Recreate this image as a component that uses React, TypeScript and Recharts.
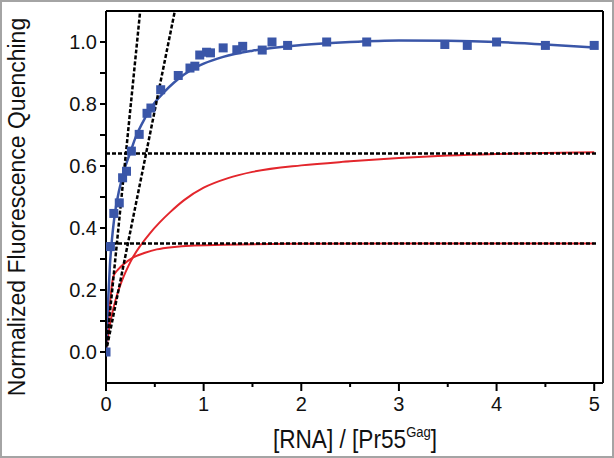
import React from 'react';
import { ComposedChart, Line, Scatter, XAxis, YAxis, ReferenceLine, Label } from 'recharts';

// Measured data (blue squares)
const bluePoints: [number, number][] = [
  [0, 0], [0.045, 0.34], [0.08, 0.447], [0.136, 0.481], [0.17, 0.562], [0.21, 0.583],
  [0.26, 0.648], [0.34, 0.702], [0.42, 0.77], [0.46, 0.787], [0.56, 0.846], [0.74, 0.892],
  [0.86, 0.916], [0.91, 0.922], [0.96, 0.958], [1.03, 0.967], [1.07, 0.965], [1.2, 0.981],
  [1.34, 0.975], [1.4, 0.986], [1.6, 0.974], [1.7, 1.0], [1.86, 0.989], [2.26, 1.0],
  [2.67, 1.0], [3.47, 0.992], [3.7, 0.989], [4.0, 1.0], [4.5, 0.989], [5.0, 0.989],
];

// Fitted curve (blue line)
const blueFit: [number, number][] = [
  [0, 0], [0.02, 0.15], [0.04, 0.28], [0.06, 0.36], [0.08, 0.42], [0.1, 0.465], [0.13, 0.515],
  [0.16, 0.555], [0.2, 0.6], [0.25, 0.645], [0.3, 0.69], [0.4, 0.755], [0.5, 0.805], [0.6, 0.84],
  [0.7, 0.87], [0.8, 0.895], [0.9, 0.915], [1.0, 0.93], [1.2, 0.952], [1.5, 0.972], [2, 0.99],
  [2.5, 1.0], [3, 1.005], [3.5, 1.004], [4, 1.0], [4.5, 0.992], [5, 0.982],
];

// Simulated curves (red)
const redHigh: [number, number][] = [
  [0, 0], [0.03, 0.07], [0.06, 0.12], [0.1, 0.17], [0.14, 0.21], [0.18, 0.243], [0.23, 0.278],
  [0.28, 0.308], [0.35, 0.342], [0.45, 0.383], [0.55, 0.418], [0.66, 0.452], [0.8, 0.49],
  [1.0, 0.53], [1.25, 0.561], [1.5, 0.581], [2, 0.602], [2.5, 0.615], [3, 0.626], [3.5, 0.634],
  [4, 0.639], [4.5, 0.642], [5.0, 0.644],
];
const redLow: [number, number][] = [
  [0, 0], [0.03, 0.12], [0.075, 0.243], [0.13, 0.268], [0.18, 0.283], [0.28, 0.305],
  [0.4, 0.32], [0.52, 0.331], [0.7, 0.339], [0.86, 0.343], [1.2, 0.346], [1.88, 0.349],
  [3, 0.35], [5.0, 0.35],
];

// Dotted guide lines
const guideSteep: [number, number][] = [[0, 0], [0.35, 1.1]];
const guideShallow: [number, number][] = [[0, 0], [0.705, 1.1]];
const plateauHigh: [number, number][] = [[0, 0.64], [5.03, 0.64]];
const plateauLow: [number, number][] = [[0, 0.35], [5.03, 0.35]];

const xTicks = [0, 0.5, 1, 1.5, 2, 2.5, 3, 3.5, 4, 4.5, 5];
const yTicks = [0, 0.1, 0.2, 0.3, 0.4, 0.5, 0.6, 0.7, 0.8, 0.9, 1.0];
const xDomain: [number, number] = [0, 5.09];
const yDomain: [number, number] = [-0.1, 1.1];

const toObj = (arr: [number, number][]) => arr.map(([x, y]) => ({ x, y }));

const BLUE = '#3a56a8';
const RED = '#e3262c';

const XTick = (props: any) => {
  const { x, y, payload } = props;
  const v = payload.value as number;
  const major = Math.abs(v - Math.round(v)) < 1e-6;
  return (
    <g>
      <line x1={x} x2={x} y1={y} y2={y + (major ? 8 : 4)} stroke="#000" strokeWidth={2} />
      {major && (
        <text x={x} y={y + 28} textAnchor="middle" fontSize={20} fill="#111">
          {Math.round(v)}
        </text>
      )}
    </g>
  );
};

const YTick = (props: any) => {
  const { x, y, payload } = props;
  const v = payload.value as number;
  const major = Math.round(v * 10) % 2 === 0;
  if (!major) return <g />;
  return (
    <text x={x - 1} y={y} dy="0.36em" textAnchor="end" fontSize={20} fill="#111">
      {v.toFixed(1)}
    </text>
  );
};

const YTitle = () => (
  <text transform="translate(25,207) rotate(-90)" textAnchor="middle" fontSize={23} fill="#111">
    Normalized Fluorescence Quenching
  </text>
);

const XTitle = () => (
  <text transform="translate(355,448) scale(0.87,1)" textAnchor="middle" fontSize={26} fill="#111">
    [RNA] / [Pr55
    <tspan fontSize={15} dy={-11}>Gag</tspan>
    <tspan dy={11}>]</tspan>
  </text>
);

const SquareDot = (props: any) => {
  const { cx, cy } = props;
  if (cx == null || cy == null) return <g />;
  return <rect x={cx - 4.5} y={cy - 4.5} width={9} height={9} fill={BLUE} />;
};

export default function App() {
  return (
    <div style={{ position: 'absolute', left: 0, top: 0, width: 614, height: 458, background: '#fff' }}>
      <ComposedChart
        width={614}
        height={458}
        margin={{ top: 11, right: 11, bottom: 15, left: 0 }}
        style={{ fontFamily: '"Liberation Sans", Arial, sans-serif' }}
      >
        <XAxis
          type="number"
          dataKey="x"
          domain={xDomain}
          ticks={xTicks}
          allowDataOverflow
          height={60}
          tickSize={0}
          tickMargin={0}
          tickLine={false}
          tick={<XTick />}
          axisLine={{ stroke: '#000', strokeWidth: 2 }}
          interval={0}
          label={<Label content={XTitle} />}
        />
        <YAxis
          type="number"
          dataKey="y"
          domain={yDomain}
          ticks={yTicks}
          allowDataOverflow
          width={106}
          tickSize={6}
          tickMargin={2}
          tickLine={{ stroke: '#000', strokeWidth: 2 }}
          tick={<YTick />}
          axisLine={{ stroke: '#000', strokeWidth: 2 }}
          interval={0}
          label={<Label content={YTitle} />}
        />
        <ReferenceLine y={1.1} stroke="#000" strokeWidth={2} />
        <ReferenceLine x={5.09} stroke="#000" strokeWidth={2} />
        <Line data={toObj(redHigh)} dataKey="y" type="monotone" stroke={RED} strokeWidth={2} dot={false} isAnimationActive={false} />
        <Line data={toObj(redLow)} dataKey="y" type="monotone" stroke={RED} strokeWidth={2} dot={false} isAnimationActive={false} />
        <Line data={toObj(blueFit)} dataKey="y" type="monotone" stroke={BLUE} strokeWidth={2.5} dot={false} isAnimationActive={false} />
        <Line data={toObj(plateauHigh)} dataKey="y" stroke="#000" strokeWidth={2.5} strokeDasharray="4 2" dot={false} isAnimationActive={false} />
        <Line data={toObj(plateauLow)} dataKey="y" stroke="#000" strokeWidth={2.5} strokeDasharray="4 2" dot={false} isAnimationActive={false} />
        <Line data={toObj(guideSteep)} dataKey="y" stroke="#000" strokeWidth={2.5} strokeDasharray="4 2" dot={false} isAnimationActive={false} />
        <Line data={toObj(guideShallow)} dataKey="y" stroke="#000" strokeWidth={2.5} strokeDasharray="4 2" dot={false} isAnimationActive={false} />
        <Scatter data={toObj(bluePoints)} dataKey="y" shape={<SquareDot />} isAnimationActive={false} />
      </ComposedChart>
      <div
        style={{
          position: 'absolute', left: 0, top: 0, width: 614, height: 458,
          border: '2px solid #a4a4a4', boxSizing: 'border-box', pointerEvents: 'none',
        }}
      />
    </div>
  );
}
